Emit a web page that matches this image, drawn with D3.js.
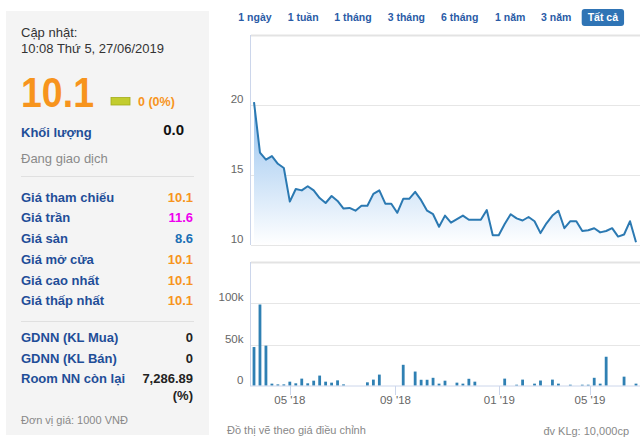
<!DOCTYPE html>
<html><head><meta charset="utf-8">
<script src="https://cdn.jsdelivr.net/npm/d3@7/dist/d3.min.js"></script>
<style>
body{margin:0;background:#fff;}
svg{display:block;font-family:"Liberation Sans",Arial,sans-serif;}
</style></head><body>
<svg id="c" width="640" height="443"></svg>
<script>
// ---------- DATA ----------
const prices = [20.2,16.6,16.1,16.35,15.8,15.5,13.1,14.0,13.9,14.2,13.9,13.35,13.0,13.5,13.15,12.6,12.65,12.45,12.8,12.8,
  13.65,13.9,12.95,12.95,12.3,13.3,13.3,13.8,13.2,12.45,12.2,11.3,12.1,11.6,11.85,12.1,11.8,11.8,11.8,12.5,
  10.7,10.7,11.5,12.2,11.9,11.75,12.0,11.7,10.85,11.55,12.1,12.45,11.2,11.7,11.7,11.0,11.05,11.2,10.9,11.0,
  11.2,10.6,10.75,11.7,10.2];
const volumes = [47,98.7,48.7,2.5,1.6,1.6,4.9,2.9,8.6,2.9,6.1,12.3,4.9,3.7,6.5,1.6,0,0,0,4.1,
  7.4,13.5,0,0,0,25.4,0,17.2,7.2,7.2,9.6,2.5,6.1,0,3.7,2.5,8.4,4.9,0,0,
  0,0,8.6,0,1.2,7.4,0,2.5,6.3,0,7.4,2.5,0,1.2,0,1.2,1.2,9.6,2.5,35.2,
  0,0,11,0,2.5]; // thousands
const xTickLabels = ["05 '18","09 '18","01 '19","05 '19"];
const xTickIndex = [6.0, 23.7, 41.1, 56.3];
const priceTicks = [10,15,20,25];
const volumeTicks = [0,50,100,150];
const rangeButtons = ["1 ngày","1 tuần","1 tháng","3 tháng","6 tháng","1 năm","3 năm","Tất cả"];

const updateLabel = "Cập nhật:";
const updateTime = "10:08 Thứ 5, 27/06/2019";
const lastPrice = "10.1";
const change = "0 (0%)";
const volLabel = "Khối lượng";
const volValue = "0.0";
const statusText = "Đang giao dịch";
const priceLabels = ["Giá tham chiếu","Giá trần","Giá sàn","Giá mở cửa","Giá cao nhất","Giá thấp nhất"];
const priceValues = ["10.1","11.6","8.6","10.1","10.1","10.1"];
const foreignLabels = ["GDNN (KL Mua)","GDNN (KL Bán)","Room NN còn lại"];
const foreignValues = ["0","0","7,286.89"];
const unitText = "Đơn vị giá: 1000 VNĐ";
const footLeft = "Đồ thị vẽ theo giá điều chỉnh";
const footRight = "đv KLg: 10,000cp";

// ---------- STYLE / LAYOUT ----------
const priceColors = ["#f7941d","#ee00ee","#1a6fb5","#f7941d","#f7941d","#f7941d"];
const labelBlue = "#1f4e98";
const buttonX = [238.3,287.7,334.3,387.7,441,495,541,587.7];

const svg = d3.select("#c");

// ---------- LEFT PANEL ----------
svg.append("rect").attr("x",6).attr("y",11).attr("width",203).attr("height",424).attr("fill","#f4f4f4");
const L = svg.append("g");
L.append("text").attr("x",21).attr("y",37).attr("font-size",13).attr("fill","#333").text(updateLabel);
L.append("text").attr("x",21).attr("y",53).attr("font-size",13).attr("fill","#333").text(updateTime);
L.append("text").attr("x",21).attr("y",107).attr("font-size",42).attr("font-weight","bold").attr("fill","#f7941d")
  .attr("textLength",73).attr("lengthAdjust","spacingAndGlyphs").text(lastPrice);
L.append("rect").attr("x",111).attr("y",97.5).attr("width",19).attr("height",7.5).attr("fill","#c2cc2e").attr("stroke","#a3ad18").attr("stroke-width",0.8);
L.append("text").attr("x",138).attr("y",106).attr("font-size",12.5).attr("font-weight","bold").attr("fill","#f7941d").text(change);
L.append("text").attr("x",21).attr("y",136.5).attr("font-size",13).attr("font-weight","bold").attr("fill",labelBlue).text(volLabel);
L.append("text").attr("x",184).attr("y",135).attr("font-size",15).attr("font-weight","bold").attr("fill","#111").attr("text-anchor","end").text(volValue);
L.append("text").attr("x",21).attr("y",163).attr("font-size",13).attr("fill","#8a8a8a").text(statusText);
L.append("line").attr("x1",21).attr("x2",194).attr("y1",176.5).attr("y2",176.5).attr("stroke","#e0e0e0");
priceLabels.forEach((t,i)=>{
  const y = 201.7 + i*20.7;
  L.append("text").attr("x",21).attr("y",y).attr("font-size",13).attr("font-weight","bold").attr("fill",labelBlue).text(t);
  L.append("text").attr("x",193).attr("y",y).attr("font-size",13).attr("font-weight","bold").attr("fill",priceColors[i]).attr("text-anchor","end").text(priceValues[i]);
});
L.append("line").attr("x1",21).attr("x2",194).attr("y1",321.5).attr("y2",321.5).attr("stroke","#e0e0e0");
foreignLabels.forEach((t,i)=>{
  const y = 341.7 + i*20.8;
  L.append("text").attr("x",21).attr("y",y).attr("font-size",13).attr("font-weight","bold").attr("fill",labelBlue).text(t);
  L.append("text").attr("x",193).attr("y",y).attr("font-size",13).attr("font-weight","bold").attr("fill","#222").attr("text-anchor","end").text(foreignValues[i]);
});
L.append("text").attr("x",193).attr("y",399.5).attr("font-size",13).attr("font-weight","bold").attr("fill","#222").attr("text-anchor","end").text("(%)");
L.append("text").attr("x",21).attr("y",423.5).attr("font-size",11).attr("fill","#888").text(unitText);

// ---------- RANGE BUTTONS ----------
const B = svg.append("g");
rangeButtons.forEach((t,i)=>{
  const last = i === rangeButtons.length-1;
  const tx = B.append("text").attr("x",buttonX[i]).attr("y",21).attr("font-size",10.5).attr("font-weight","bold")
    .attr("fill", last ? "#fff" : "#2a5ba6").text(t);
  if (last) {
    const w = tx.node().getComputedTextLength();
    B.insert("rect","text:last-child").attr("x",buttonX[i]-6).attr("y",9).attr("width",w+12).attr("height",17).attr("rx",3).attr("fill","#2f74b5");
  }
});

// ---------- SCALES ----------
const x = d3.scaleLinear().domain([0, prices.length-1]).range([254, 636]);
const yP = d3.scaleLinear().domain([10,25]).range([245,35]);
const yV = d3.scaleLinear().domain([0,150]).range([385.7,262.3]);

// ---------- PRICE PANEL ----------
const P = svg.append("g");
P.selectAll("line.g").data(priceTicks).join("line")
  .attr("x1",251).attr("x2",640).attr("y1",d=>Math.round(yP(d))+0.5).attr("y2",d=>Math.round(yP(d))+0.5)
  .attr("stroke",d=>d===25?"#e3e3e3":"#e6e6e6").attr("stroke-width",d=>d===25?2:1);
P.selectAll("text.yl").data(priceTicks.filter(d=>d<25)).join("text")
  .attr("x",243.5).attr("y",d=>yP(d)-2).attr("text-anchor","end").attr("font-size",11.5).attr("fill","#666").text(d=>d);

const defs = svg.append("defs");
const grad = defs.append("linearGradient").attr("id","ag").attr("x1",0).attr("y1",0).attr("x2",0).attr("y2",1);
grad.append("stop").attr("offset","0").attr("stop-color","#92c0ee");
grad.append("stop").attr("offset","1").attr("stop-color","#ffffff");

P.append("path").datum(prices)
  .attr("d", d3.area().x((d,i)=>x(i)).y0(yP(10)).y1(d=>yP(d)))
  .attr("fill","url(#ag)");
P.append("line").attr("x1",250.5).attr("x2",250.5).attr("y1",35).attr("y2",245).attr("stroke","#ccd6eb");
P.append("path").datum(prices)
  .attr("d", d3.line().x((d,i)=>x(i)).y(d=>yP(d)))
  .attr("fill","none").attr("stroke","#2b79b2").attr("stroke-width",2).attr("stroke-linejoin","round");

// ---------- VOLUME PANEL ----------
const V = svg.append("g");
V.selectAll("line.g").data(volumeTicks.filter(d=>d>0)).join("line")
  .attr("x1",251).attr("x2",640).attr("y1",d=>Math.round(yV(d))+0.5).attr("y2",d=>Math.round(yV(d))+0.5)
  .attr("stroke",d=>d===150?"#e3e3e3":"#e6e6e6").attr("stroke-width",d=>d===150?2:1);
V.selectAll("text.yl").data(volumeTicks.filter(d=>d<150)).join("text")
  .attr("x",243.5).attr("y",d=>yV(d)-2).attr("text-anchor","end").attr("font-size",11.5).attr("fill","#666")
  .text(d=>d===0?"0":d+"k");
V.selectAll("rect.b").data(volumes).join("rect")
  .attr("x",(d,i)=>x(i)-1.4).attr("width",2.8)
  .attr("y",d=>yV(d)).attr("height",d=>yV(0)-yV(d))
  .attr("fill","#2f80b3");
V.append("line").attr("x1",250.5).attr("x2",250.5).attr("y1",262).attr("y2",386).attr("stroke","#ccd6eb");
V.append("line").attr("x1",250).attr("x2",640).attr("y1",386).attr("y2",386).attr("stroke","#ccd6eb");
V.selectAll("line.t").data(xTickIndex).join("line")
  .attr("x1",d=>Math.round(x(d))+0.5).attr("x2",d=>Math.round(x(d))+0.5).attr("y1",386).attr("y2",395).attr("stroke","#ccd6eb");
V.selectAll("text.xl").data(xTickIndex).join("text")
  .attr("x",d=>x(d)).attr("y",404).attr("text-anchor","middle").attr("font-size",11.5).attr("fill","#666")
  .text((d,i)=>xTickLabels[i]);

svg.append("text").attr("x",227).attr("y",433.5).attr("font-size",11).attr("fill","#888").text(footLeft);
svg.append("text").attr("x",629).attr("y",435).attr("font-size",11).attr("fill","#888").attr("text-anchor","end").text(footRight);
</script>
</body></html>
